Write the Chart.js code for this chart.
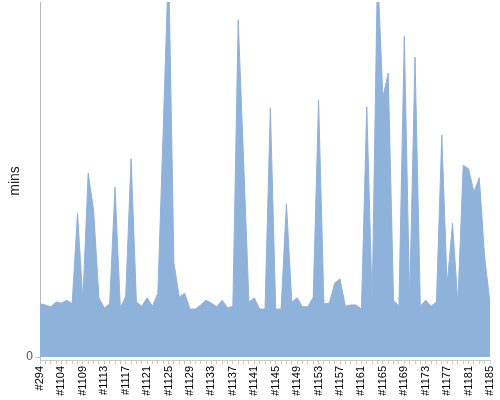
<!DOCTYPE html>
<html>
<head>
<meta charset="utf-8">
<script src="https://cdn.jsdelivr.net/npm/chart.js@4/dist/chart.umd.min.js"></script>
<style>
html,body{margin:0;padding:0;background:#fff;}
#wrap{width:500px;height:400px;}
</style>
</head>
<body>
<div id="wrap"><canvas id="c" width="500" height="400"></canvas></div>
<script>
const builds = [
"#294","#1101","#1102","#1103","#1104","#1105","#1106","#1108","#1109","#1110",
"#1111","#1112","#1113","#1114","#1115","#1116","#1117","#1118","#1119","#1120",
"#1121","#1122","#1123","#1124","#1125","#1126","#1127","#1128","#1129","#1130",
"#1131","#1132","#1133","#1134","#1135","#1136","#1137","#1138","#1139","#1140",
"#1141","#1142","#1143","#1144","#1145","#1146","#1147","#1148","#1149","#1150",
"#1151","#1152","#1153","#1154","#1155","#1156","#1157","#1158","#1159","#1160",
"#1161","#1162","#1163","#1164","#1165","#1166","#1167","#1168","#1169","#1170",
"#1171","#1172","#1173","#1174","#1175","#1176","#1177","#1178","#1179","#1180",
"#1181","#1182","#1183","#1184","#1185"
];
const durationMins = [
9.0,8.8,8.5,9.3,9.1,9.6,9.0,24.3,9.6,31.1,
24.8,10.0,8.3,9.0,28.7,8.3,10.3,33.5,9.3,8.6,
10.0,8.6,10.8,38.4,67.0,15.9,10.1,10.8,8.1,8.1,
8.8,9.6,9.1,8.5,9.6,8.3,8.6,57.0,33.3,9.3,
10.0,8.1,8.1,42.1,8.1,8.1,25.9,9.3,10.0,8.5,
8.5,10.1,43.4,9.0,9.1,12.5,13.2,8.6,8.8,8.8,
8.1,42.3,9.3,66.0,43.9,48.0,9.6,8.6,54.2,9.6,
50.7,8.6,9.6,8.6,9.3,37.5,12.2,22.6,9.1,32.4,
31.8,27.9,30.3,16.9,9.1
];
const yTickValues = [0];
const yTitle = "mins";

const fontFam = "'Liberation Sans', Arial, sans-serif";
new Chart(document.getElementById('c'), {
  type: 'line',
  data: {
    labels: builds,
    datasets: [{
      data: durationMins,
      fill: 'origin',
      backgroundColor: '#8fb2db',
      borderColor: '#8fb2db',
      borderWidth: 1,
      pointRadius: 0,
      tension: 0
    }]
  },
  options: {
    responsive: false,
    animation: false,
    layout: { padding: { top: 2, right: 10, left: 0, bottom: 0 } },
    plugins: { legend: { display: false }, tooltip: { enabled: false } },
    scales: {
      x: {
        offset: false,
        grid: { drawOnChartArea: false, drawTicks: true, tickLength: 4, color: '#c8c8c8' },
        border: { display: true, color: '#c8c8c8' },
        ticks: {
          autoSkip: false,
          minRotation: 90, maxRotation: 90,
          padding: 2,
          color: '#000',
          font: { family: fontFam, size: 11 },
          callback: function(v, i) { return i % 4 === 0 ? this.getLabelForValue(v) : ''; }
        },
        afterFit: function(s) { s.height = 40; s.paddingLeft = 0; s.paddingRight = 0; }
      },
      y: {
        min: -0.5, max: 60,
        grid: { drawOnChartArea: false, drawTicks: true, tickLength: 4, color: '#bbbbbb' },
        border: { display: true, color: '#bbbbbb' },
        afterBuildTicks: function(s) { s.ticks = yTickValues.map(v => ({ value: v })); },
        ticks: { color: '#555', padding: 3, font: { family: fontFam, size: 12 } },
        title: { display: true, text: yTitle, color: '#222', padding: 7, font: { family: fontFam, size: 14 } },
        afterFit: function(s) { s.width = 40; s.paddingTop = 0; s.paddingBottom = 0; }
      }
    }
  }
});
</script>
</body>
</html>
